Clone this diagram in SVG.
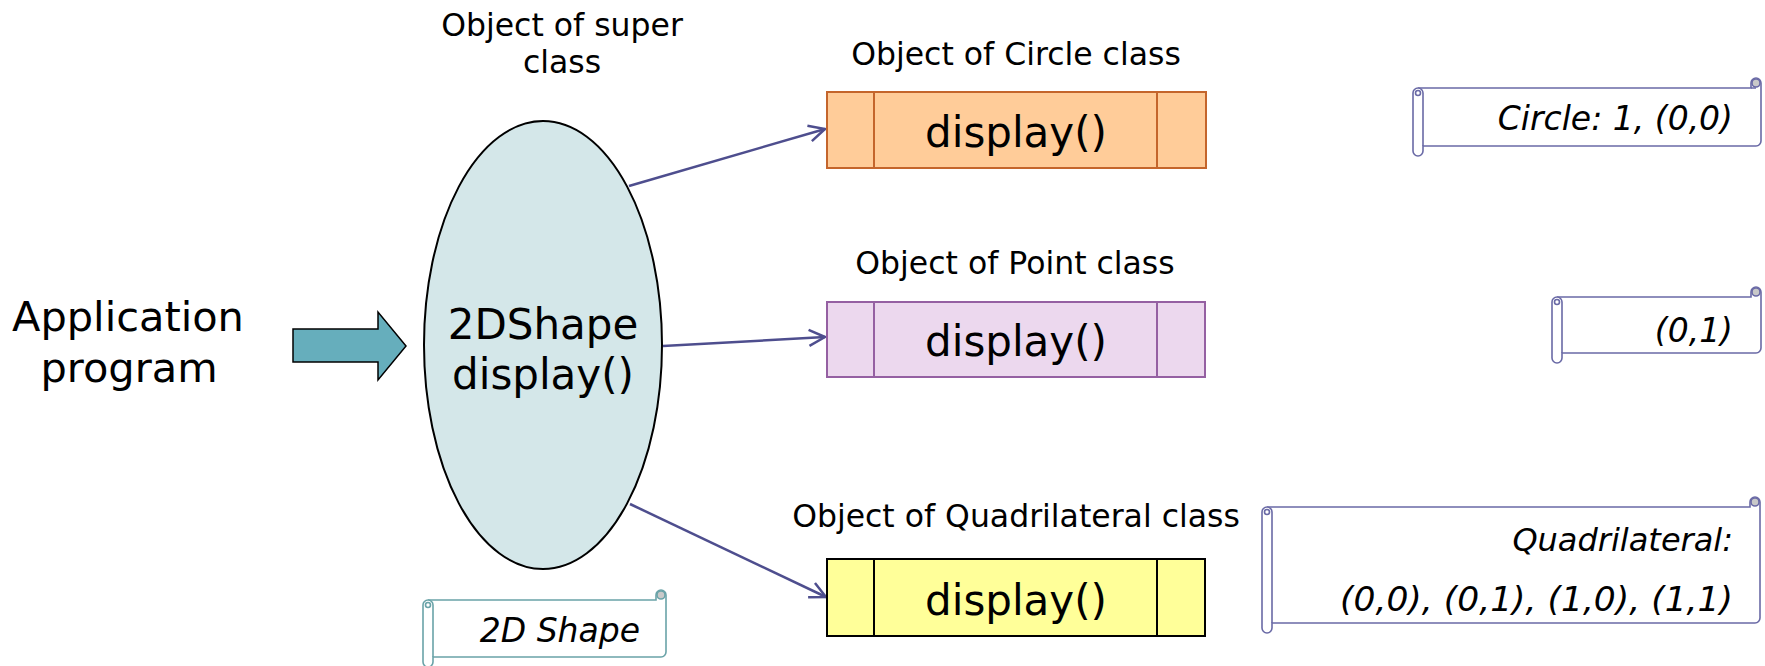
<svg xmlns="http://www.w3.org/2000/svg" width="1765" height="666" viewBox="0 0 1765 666">
<style>
text{font-family:"DejaVu Sans","Liberation Sans",sans-serif;fill:#000}
.big{font-size:42px;text-anchor:middle}
.lbl{font-size:31.5px;text-anchor:middle}
.note{font-size:33px;font-style:italic;text-anchor:end}
.scroll{fill:#fff;stroke:#6A6AA6;stroke-width:1.6}
.scroll.teal{stroke:#6AA3A8}
.curl{fill:#c9c9c9}
.conn{fill:none;stroke:#4E4E8E;stroke-width:2.5}
</style>
<defs>
<marker id="arr" markerUnits="userSpaceOnUse" markerWidth="22" markerHeight="22" refX="17" refY="9" orient="auto" viewBox="0 0 22 18">
<path d="M1,1 L17,9 L1,17" fill="none" stroke="#4E4E8E" stroke-width="2.5"/>
</marker>
</defs>
<rect width="1765" height="666" fill="#fff"/>

<g id="app">
<text x="128" y="331" style="font-size:41.5px;text-anchor:middle">Application</text>
<text x="129" y="382" style="font-size:41.5px;text-anchor:middle">program</text>
<polygon points="293,329 378,329 378,312 406,346 378,380 378,362 293,362" fill="#66AEBC" stroke="#000" stroke-width="1.5"/>
</g>

<g id="super">
<text class="lbl" x="562" y="36">Object of super</text>
<text class="lbl" x="562" y="73">class</text>
<ellipse cx="543" cy="345" rx="119" ry="224" fill="#D4E7E9" stroke="#000" stroke-width="2"/>
<text class="big" x="543" y="339">2DShape</text>
<text class="big" x="543" y="389">display()</text>
</g>

<g id="connectors">
<line class="conn" x1="629" y1="186" x2="825" y2="129" marker-end="url(#arr)"/>
<line class="conn" x1="663" y1="346" x2="825" y2="337" marker-end="url(#arr)"/>
<line class="conn" x1="630" y1="504" x2="826" y2="597" marker-end="url(#arr)"/>
</g>

<g id="circle">
<text class="lbl" x="1016" y="65">Object of Circle class</text>
<rect x="827" y="92" width="379" height="76" fill="#FFCC99" stroke="#C4652C" stroke-width="2"/>
<line x1="874" y1="92" x2="874" y2="168" stroke="#C4652C" stroke-width="2"/>
<line x1="1157" y1="92" x2="1157" y2="168" stroke="#C4652C" stroke-width="2"/>
<text class="big" x="1016" y="147">display()</text>
</g>

<g id="point">
<text class="lbl" x="1015" y="274">Object of Point class</text>
<rect x="827" y="302" width="378" height="75" fill="#ECD8EE" stroke="#9560A2" stroke-width="2"/>
<line x1="874" y1="302" x2="874" y2="377" stroke="#9560A2" stroke-width="2"/>
<line x1="1157" y1="302" x2="1157" y2="377" stroke="#9560A2" stroke-width="2"/>
<text class="big" x="1016" y="356">display()</text>
</g>

<g id="quad">
<text class="lbl" x="1016" y="527">Object of Quadrilateral class</text>
<rect x="827" y="559" width="378" height="77" fill="#FFFF99" stroke="#000" stroke-width="2"/>
<line x1="874" y1="559" x2="874" y2="636" stroke="#000" stroke-width="2"/>
<line x1="1157" y1="559" x2="1157" y2="636" stroke="#000" stroke-width="2"/>
<text class="big" x="1016" y="615">display()</text>
</g>

<g id="note-circle">
<path class="scroll" d="M1413,93 A5,5 0 0 1 1418,88 L1751,88 L1751,83 A5,5 0 0 1 1761,83 L1761,141 A5,5 0 0 1 1756,146 L1423,146 L1423,151 A5,5 0 0 1 1413,151 Z"/>
<path class="scroll" d="M1418,88 A5,5 0 0 1 1423,93 L1423,146 M1751,88 L1756,88"/>
<circle class="scroll" cx="1418" cy="93" r="2.5"/>
<circle class="scroll curl" cx="1756" cy="83" r="4"/>
<text class="note" x="1733" y="130">Circle: 1, (0,0)</text>
</g>

<g id="note-point">
<path class="scroll" d="M1552,302 A5,5 0 0 1 1557,297 L1751,297 L1751,292 A5,5 0 0 1 1761,292 L1761,348 A5,5 0 0 1 1756,353 L1562,353 L1562,358 A5,5 0 0 1 1552,358 Z"/>
<path class="scroll" d="M1557,297 A5,5 0 0 1 1562,302 L1562,353"/>
<circle class="scroll" cx="1557" cy="302" r="2.5"/>
<circle class="scroll curl" cx="1756" cy="292" r="4"/>
<text class="note" x="1733" y="342">(0,1)</text>
</g>

<g id="note-quad">
<path class="scroll" d="M1262,512 A5,5 0 0 1 1267,507 L1750,507 L1750,502 A5,5 0 0 1 1760,502 L1760,618 A5,5 0 0 1 1755,623 L1272,623 L1272,628 A5,5 0 0 1 1262,628 Z"/>
<path class="scroll" d="M1267,507 A5,5 0 0 1 1272,512 L1272,623"/>
<circle class="scroll" cx="1267" cy="512" r="2.5"/>
<circle class="scroll curl" cx="1755" cy="502" r="4"/>
<text class="note" x="1733" y="551" style="font-size:32px">Quadrilateral:</text>
<text class="note" x="1733" y="611" style="font-size:34.5px">(0,0), (0,1), (1,0), (1,1)</text>
</g>

<g id="note-2dshape">
<path class="scroll teal" d="M423,605 A5,5 0 0 1 428,600 L656,600 L656,595 A5,5 0 0 1 666,595 L666,652 A5,5 0 0 1 661,657 L433,657 L433,662 A5,5 0 0 1 423,662 Z"/>
<path class="scroll teal" d="M428,600 A5,5 0 0 1 433,605 L433,657"/>
<circle class="scroll teal" cx="428" cy="605" r="2.5"/>
<circle class="scroll teal curl" cx="661" cy="595" r="4"/>
<text class="note" x="640" y="642">2D Shape</text>
</g>
</svg>
